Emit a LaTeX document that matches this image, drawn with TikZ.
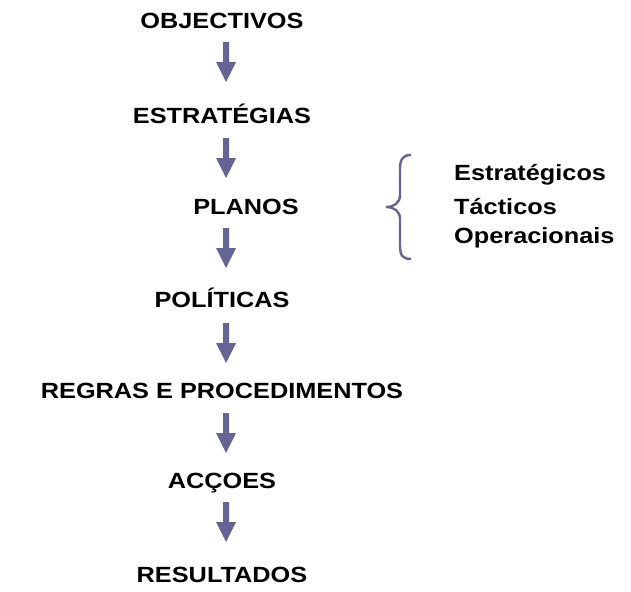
\documentclass[tikz,border=0pt]{standalone}
\usepackage{fontspec}
\setmainfont{Liberation Sans}[FakeStretch=1.15]
\definecolor{arrowcol}{RGB}{100,100,150}
\begin{document}
\begin{tikzpicture}[x=1pt,y=-1pt,
  lbl/.style={font=\fontsize{22}{24}\selectfont\bfseries, inner sep=0pt, anchor=center},
  sidelbl/.style={font=\fontsize{22}{24}\selectfont\bfseries, inner sep=0pt, anchor=west},
  downarrow/.style={fill=arrowcol, draw=none}]
\useasboundingbox (0,0) rectangle (631,591);
\node[lbl] (obj) at (222,21) {OBJECTIVOS};
\node[lbl] (est) at (222,114) {ESTRATÉGIAS};
\node[lbl] (pla) at (246,207) {PLANOS};
\node[lbl] (pol) at (222,298) {POLÍTICAS};
\node[lbl] (reg) at (222,391) {REGRAS E PROCEDIMENTOS};
\node[lbl] (acc) at (222,483) {ACÇOES};
\node[lbl] (res) at (222,575) {RESULTADOS};
\foreach \t in {42,138,228,323,413,502}{
  \fill[downarrow] (223,\t) -- (229,\t) -- (229,\t+20) -- (236,\t+20) -- (226,\t+40) -- (216,\t+20) -- (223,\t+20) -- cycle;
}
\node[sidelbl] (s1) at (454,175) {Estratégicos};
\node[sidelbl] (s2) at (454,207) {Tácticos};
\node[sidelbl] (s3) at (454,238) {Operacionais};
\draw[arrowcol, line width=2.4pt] (411,155) .. controls (402,155) and (400,160) .. (400,170) -- (400,195) .. controls (400,203) and (394,207) .. (386,207) .. controls (394,207) and (400,211) .. (400,219) -- (400,245) .. controls (400,255) and (402,259) .. (411,259);
\end{tikzpicture}
\end{document}
